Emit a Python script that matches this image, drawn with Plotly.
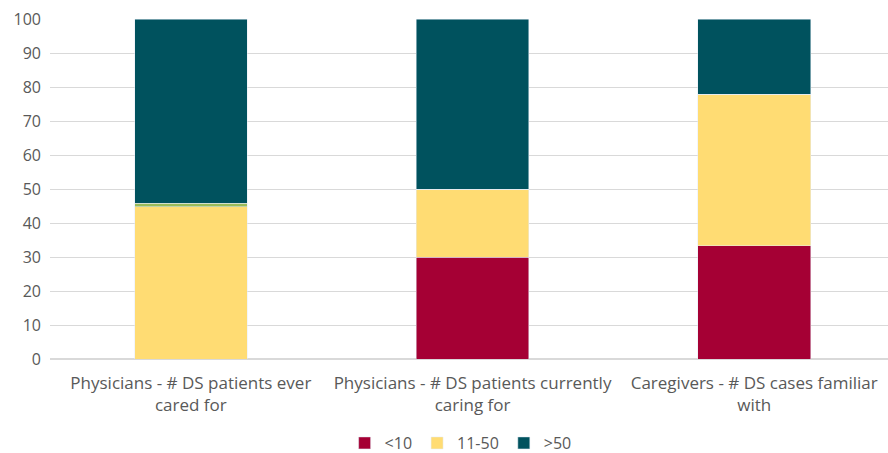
import plotly.graph_objects as go

categories = ["Physicians - # DS patients ever<br>cared for",
              "Physicians - # DS patients currently<br>caring for",
              "Caregivers - # DS cases familiar<br>with"]
lt10 = [0, 30, 33.3]
mid = [44.8, 20, 44.5]
other = [1.0, 0, 0]
gt50 = [54.2, 50, 22.2]
yticks = [0, 10, 20, 30, 40, 50, 60, 70, 80, 90, 100]

FONT = "Open Sans"
GRAY = "#595959"

fig = go.Figure()
fig.add_bar(x=categories, y=lt10, name="<10", marker_color="#A50034")
fig.add_bar(x=categories, y=mid, name="11-50", marker_color="#FFDC73")
fig.add_bar(x=categories, y=other, name="other", marker_color="#9BBB59", showlegend=False)
fig.add_bar(x=categories, y=gt50, name=">50", marker_color="#00525E")

fig.update_layout(
    barmode="stack",
    bargap=0.6,
    width=888, height=453,
    margin=dict(l=50, r=0, t=19, b=94, autoexpand=False),
    plot_bgcolor="white", paper_bgcolor="white",
    font=dict(family=FONT, size=16, color=GRAY),
    showlegend=True,
    legend=dict(orientation="h", x=0.49, xanchor="center", xref="paper",
                y=0.022, yanchor="middle", yref="container",
                font=dict(size=16, color=GRAY), traceorder="normal",
                itemwidth=30),
    xaxis=dict(range=[-0.5, 2.475], showgrid=False, ticks="", showline=False,
               automargin=False, ticklabelstandoff=12,
               tickfont=dict(size=17, color=GRAY)),
    yaxis=dict(range=[0, 100], tickvals=yticks, showgrid=True, gridcolor="#D9D9D9",
               gridwidth=1, zeroline=True, zerolinecolor="#D9D9D9",
               automargin=False, ticklabelstandoff=8,
               tickfont=dict(size=16, color=GRAY), ticks="", ticklen=0),
)
fig.write_html("out.html")
